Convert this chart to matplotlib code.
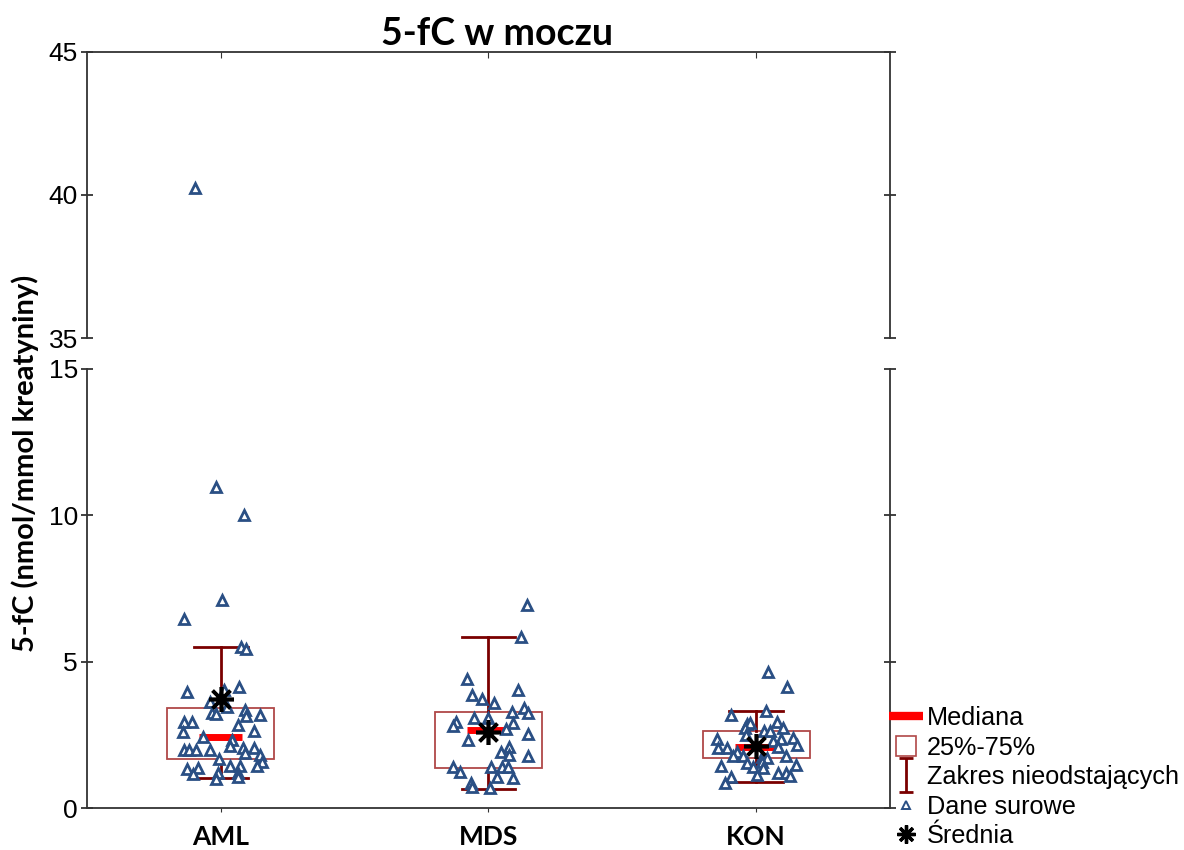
import matplotlib
matplotlib.use('Agg')
import matplotlib.pyplot as plt
from matplotlib.lines import Line2D
from matplotlib.patches import Rectangle
from matplotlib.path import Path
import numpy as np

groups = ['AML', 'MDS', 'KON']

# box statistics
q1 = [1.67, 1.38, 1.70]
q3 = [3.43, 3.27, 2.64]
med = [2.43, 2.66, 2.09]
mean = [3.72, 2.60, 2.12]
wlo = [1.02, 0.65, 0.88]
whi = [5.51, 5.83, 3.32]

# raw data: horizontal jitter (category units) and values
aml_dx = [0.075, 0.093, -0.127, 0.067, 0.011, -0.041, 0.022, -0.034, -0.019, 0.090,
          0.093, 0.146, -0.138, -0.108, 0.064, -0.142, 0.123, -0.067, 0.041, 0.034,
          -0.138, -0.120, -0.093, -0.041, 0.082, 0.090, 0.123, 0.146, -0.007, 0.153,
          0.134, 0.034, 0.071, -0.127, -0.086, -0.105, -0.011, 0.064, 0.064, -0.019,
          -0.138, 0.004, 0.086, -0.019, -0.097]
aml_y = [5.50, 5.44, 3.96, 4.13, 4.03, 3.62, 3.45, 3.24, 3.21, 3.35,
         3.14, 3.18, 2.94, 2.94, 2.84, 2.60, 2.63, 2.43, 2.32, 2.12,
         1.98, 1.98, 1.98, 1.98, 2.05, 1.88, 2.05, 1.81, 1.67, 1.57,
         1.43, 1.43, 1.43, 1.33, 1.37, 1.16, 1.20, 1.20, 1.06, 0.99,
         6.46, 7.10, 10.0, 10.97, 40.24]

mds_dx = [0.142, 0.123, -0.082, 0.112, -0.060, -0.026, 0.019, 0.134, 0.086, 0.149,
          -0.056, 0.0, -0.120, -0.134, 0.093, 0.067, 0.149, -0.075, 0.075, 0.045,
          0.075, 0.146, -0.131, -0.105, 0.011, 0.049, 0.071, 0.030, 0.093, -0.067,
          -0.060, 0.004]
mds_y = [6.94, 5.84, 4.41, 4.03, 3.86, 3.72, 3.59, 3.42, 3.28, 3.25,
         3.07, 3.07, 2.94, 2.80, 2.90, 2.70, 2.53, 2.32, 2.08, 1.91,
         1.81, 1.78, 1.40, 1.23, 1.40, 1.40, 1.40, 1.06, 1.02, 0.85,
         0.72, 0.68]

kon_dx = [0.045, 0.116, -0.093, 0.037, 0.078, -0.034, -0.022, -0.041, 0.030, 0.052,
          0.101, -0.037, 0.138, -0.146, 0.064, 0.093, 0.153, 0.082, -0.142, -0.108,
          -0.071, -0.086, -0.049, 0.112, 0.022, 0.041, -0.034, 0.022, 0.149, -0.011,
          -0.131, 0.026, 0.082, 0.112, 0.127, -0.093, -0.116, 0.004]
kon_y = [4.65, 4.13, 3.18, 3.31, 2.94, 2.87, 2.90, 2.73, 2.63, 2.63,
         2.73, 2.49, 2.39, 2.36, 2.29, 2.36, 2.15, 2.08, 2.05, 2.05,
         1.91, 1.78, 1.78, 1.78, 1.74, 1.71, 1.54, 1.57, 1.47, 1.40,
         1.43, 1.37, 1.20, 1.20, 1.09, 1.06, 0.85, 1.13]

raw_dx = [aml_dx, mds_dx, kon_dx]
raw_y = [aml_y, mds_y, kon_y]

box_col = '#b04848'
wsk_col = '#7a0000'
pt_col = '#2a4f84'
spine_col = '#333333'

plt.rcParams['font.family'] = ['Liberation Sans', 'DejaVu Sans']

fig = plt.figure(figsize=(11.84, 8.5), dpi=100)
W, H = 1184.0, 850.0
L, R = 87, 890
ax_t = fig.add_axes([L / W, (H - 338) / H, (R - L) / W, (338 - 51.5) / H])
ax_b = fig.add_axes([L / W, (H - 808) / H, (R - L) / W, (808 - 369) / H])

asterisk = (8, 2, 0)

for ax in (ax_t, ax_b):
    for i in range(3):
        x = i
        ax.add_patch(Rectangle((x - 0.2, q1[i]), 0.4, q3[i] - q1[i], fill=False,
                               edgecolor=box_col, lw=1.3, zorder=2))
        ax.plot([x, x], [q3[i], whi[i]], color=wsk_col, lw=2, zorder=2)
        ax.plot([x, x], [wlo[i], q1[i]], color=wsk_col, lw=2, zorder=2)
        ax.plot([x - 0.1, x + 0.1], [whi[i], whi[i]], color=wsk_col, lw=2, zorder=2)
        ax.plot([x - 0.1, x + 0.1], [wlo[i], wlo[i]], color=wsk_col, lw=2, zorder=2)
        ax.plot([x - 0.08, x + 0.08], [med[i], med[i]], color='#ff0000', lw=5,
                solid_capstyle='butt', zorder=3)
        ax.plot(x + np.array(raw_dx[i]), raw_y[i], ls='none', marker='^', ms=7,
                mfc='white', mec=pt_col, mew=2.0, zorder=4)
        ax.plot([x], [mean[i]], ls='none', marker=asterisk, ms=18, mec='black',
                mew=2.6, zorder=5)
    ax.set_xlim(-0.5, 2.5)
    for s in ax.spines.values():
        s.set_color(spine_col)
        s.set_linewidth(1.3)

ax_t.set_ylim(35, 45)
ax_t.set_yticks([35, 40, 45])
ax_t.spines['bottom'].set_visible(False)
ax_t.tick_params(axis='x', bottom=False, labelbottom=False, top=True, direction='in',
                 length=4, color=spine_col)
ax_t.set_xticks([0, 1, 2])

ax_b.set_ylim(0, 15)
ax_b.set_yticks([0, 5, 10, 15])
ax_b.spines['top'].set_visible(False)
ax_b.set_xticks([0, 1, 2])
ax_b.set_xticklabels(groups, fontsize=19, fontweight='bold', family=['Lato', 'DejaVu Sans'])
ax_b.tick_params(axis='x', bottom=True, direction='out', length=3, pad=9, color=spine_col)

for ax in (ax_t, ax_b):
    ax.tick_params(axis='y', left=True, right=True, direction='inout', length=9,
                   labelsize=19, pad=2, color=spine_col, width=1.3)

fig.text(497 / W, (H - 45) / H, '5-fC w moczu', ha='center', va='baseline',
         fontsize=27, fontweight='bold', family=['Lato', 'DejaVu Sans'])
fig.text(25 / W, (H - 463) / H, '5-fC (nmol/mmol kreatyniny)', rotation=90,
         ha='center', va='center', fontsize=21, fontweight='bold',
         family=['Lato', 'DejaVu Sans'])

ibar = Path([(-0.4, 1), (0.4, 1), (0, 1), (0, -1), (-0.4, -1), (0.4, -1)],
            [Path.MOVETO, Path.LINETO, Path.MOVETO, Path.LINETO, Path.MOVETO, Path.LINETO])
handles = [
    Line2D([], [], color='#ff0000', lw=6, solid_capstyle='butt'),
    Line2D([], [], ls='none', marker='s', ms=14, mfc='white', mec=box_col, mew=1.2),
    Line2D([], [], ls='none', marker=ibar, ms=24, mec=wsk_col, mew=2),
    Line2D([], [], ls='none', marker='^', ms=6, mfc='white', mec=pt_col, mew=1.4),
    Line2D([], [], ls='none', marker=asterisk, ms=13, mec='black', mew=2.4),
]
labels = ['Mediana', '25%-75%', 'Zakres nieodstających', 'Dane surowe', 'Średnia']
fig.legend(handles, labels, loc='upper left', bbox_to_anchor=(889 / W, (H - 706) / H),
           frameon=False, fontsize=18.2, handlelength=1.35, handletextpad=0.15,
           labelspacing=0.22, borderpad=0, borderaxespad=0)

fig.savefig('out.png', dpi=100)
